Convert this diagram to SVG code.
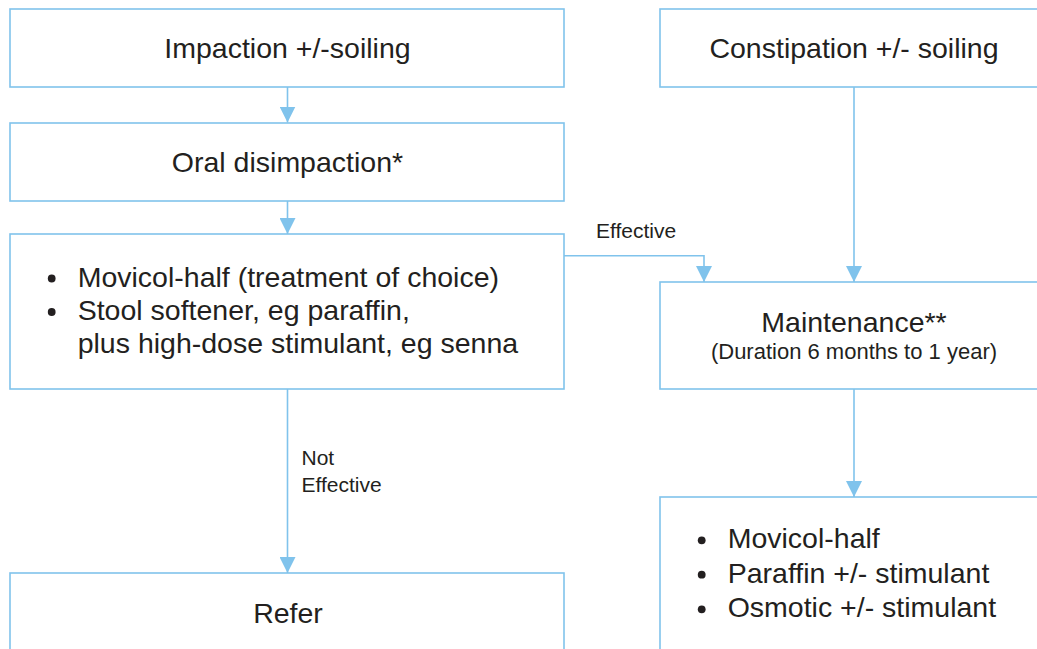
<svg xmlns="http://www.w3.org/2000/svg" width="1037" height="649" viewBox="0 0 1037 649">
  <style>
    .box { fill: #ffffff; stroke: #80c3ec; stroke-width: 1.6; }
    .conn { fill: none; stroke: #80c3ec; stroke-width: 1.6; }
    .t { font-family: "Liberation Sans", Arial, sans-serif; font-size: 28.5px; fill: #231f20; }
    .tc { text-anchor: middle; }
    .sub { font-family: "Liberation Sans", Arial, sans-serif; font-size: 22px; fill: #231f20; text-anchor: middle; }
    .lbl { font-family: "Liberation Sans", Arial, sans-serif; font-size: 21px; fill: #231f20; }
    .dot { fill: #231f20; }
  </style>
  <defs>
    <marker id="arrow" markerUnits="userSpaceOnUse" markerWidth="16" markerHeight="16" viewBox="0 0 16 16" refX="16" refY="8" orient="auto">
      <path d="M0,0 L16,8 L0,16 Z" fill="#80c3ec"/>
    </marker>
  </defs>
  <rect width="1037" height="649" fill="#ffffff"/>

  <g id="connectors">
    <path class="conn" d="M287.5,87 V122.5" marker-end="url(#arrow)"/>
    <path class="conn" d="M287.5,201 V234" marker-end="url(#arrow)"/>
    <path class="conn" d="M287.5,389 V573" marker-end="url(#arrow)"/>
    <path class="conn" d="M564,255.7 H704 V282" marker-end="url(#arrow)"/>
    <path class="conn" d="M854,87 V282" marker-end="url(#arrow)"/>
    <path class="conn" d="M854,389 V497" marker-end="url(#arrow)"/>
    <text class="lbl" x="596" y="237.5">Effective</text>
    <text class="lbl" x="301.5" y="465">Not</text>
    <text class="lbl" x="301.5" y="492.3">Effective</text>
  </g>

  <g id="impaction">
    <rect class="box" x="10" y="9" width="554" height="78"/>
    <text class="t tc" x="287.5" y="58.3">Impaction +/-soiling</text>
  </g>

  <g id="disimpaction">
    <rect class="box" x="10" y="123" width="554" height="78"/>
    <text class="t tc" x="287.5" y="172.3">Oral disimpaction*</text>
  </g>

  <g id="treatment">
    <rect class="box" x="10" y="234" width="554" height="155"/>
    <circle class="dot" cx="51.7" cy="278.5" r="3.9"/>
    <text class="t" x="77.7" y="286.7">Movicol-half (treatment of choice)</text>
    <circle class="dot" cx="51.7" cy="312" r="3.9"/>
    <text class="t" x="77.7" y="320">Stool softener, eg paraffin,</text>
    <text class="t" x="77.7" y="353.3">plus high-dose stimulant, eg senna</text>
  </g>

  <g id="refer">
    <rect class="box" x="10" y="573" width="554" height="100"/>
    <text class="t tc" x="288" y="622.7">Refer</text>
  </g>

  <g id="constipation">
    <rect class="box" x="660" y="9" width="388" height="78"/>
    <text class="t tc" x="854" y="58.3">Constipation +/- soiling</text>
  </g>

  <g id="maintenance">
    <rect class="box" x="660" y="282" width="388" height="107"/>
    <text class="t tc" x="854" y="331.7">Maintenance**</text>
    <text class="sub" x="854" y="358.5">(Duration 6 months to 1 year)</text>
  </g>

  <g id="maintenance-options">
    <rect class="box" x="660" y="497" width="388" height="180"/>
    <circle class="dot" cx="701.7" cy="540.3" r="3.9"/>
    <text class="t" x="727.7" y="548.3">Movicol-half</text>
    <circle class="dot" cx="701.7" cy="574.7" r="3.9"/>
    <text class="t" x="727.7" y="582.7">Paraffin +/- stimulant</text>
    <circle class="dot" cx="701.7" cy="609.3" r="3.9"/>
    <text class="t" x="727.7" y="617.3">Osmotic +/- stimulant</text>
  </g>
</svg>
